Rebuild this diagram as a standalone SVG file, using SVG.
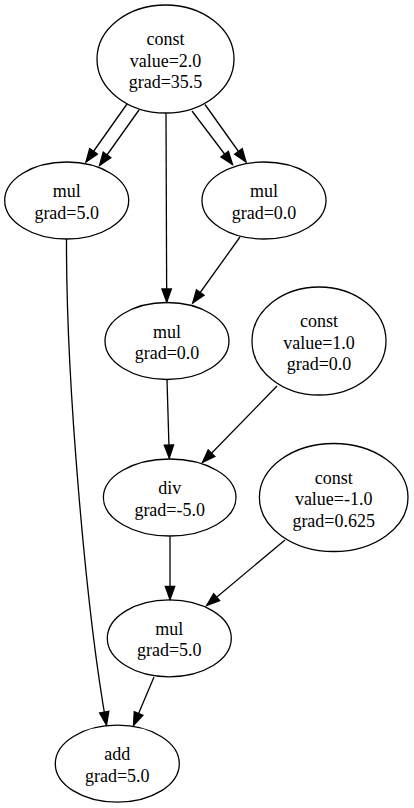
<svg xmlns="http://www.w3.org/2000/svg" width="414" height="808" viewBox="0 0 414 808">
<style>
.n ellipse{fill:none;stroke:#000;stroke-width:1.3}
.n text{font-family:"Liberation Serif","Times New Roman",serif;font-size:18px;text-anchor:middle;fill:#000}
.e path{fill:none;stroke:#000;stroke-width:1.3;marker-end:url(#ah)}
</style>
<defs>
<marker id="ah" markerUnits="userSpaceOnUse" markerWidth="14" markerHeight="10" refX="13" refY="4.7" orient="auto" overflow="visible">
<path d="M0,0 L13,4.7 L0,9.4 z" fill="#000" stroke="#000" stroke-width="1.3"/>
</marker>
</defs>
<rect width="414" height="808" fill="#fff"/>
<g id="edges" class="e">
<path d="M127,104 L86,162"/>
<path d="M139,110 L99.5,165.5"/>
<path d="M192,111 L232.5,164.5"/>
<path d="M205,104.5 L246,162"/>
<path d="M166,113 L166.7,302"/>
<path d="M240,237 L192.7,303"/>
<path d="M167,379.5 L169.3,458"/>
<path d="M277,386 L202.5,462.5"/>
<path d="M170,536.5 L170,599.5"/>
<path d="M285,540 L206.7,605.5"/>
<path d="M154,677 L133.5,725.5"/>
<path d="M66.5,239 C66,380 86,610 106.5,725"/>
</g>
<g id="n0" class="n">
<ellipse cx="165.5" cy="59" rx="68.5" ry="54"/>
<text x="165.5" y="45">const</text>
<text x="165.5" y="66.5">value=2.0</text>
<text x="165.5" y="88">grad=35.5</text>
</g>
<g id="n1" class="n">
<ellipse cx="66.7" cy="200.5" rx="62" ry="38.5"/>
<text x="66.7" y="197">mul</text>
<text x="66.7" y="218.5">grad=5.0</text>
</g>
<g id="n2" class="n">
<ellipse cx="264" cy="200.5" rx="62" ry="38.5"/>
<text x="264" y="197">mul</text>
<text x="264" y="218.5">grad=0.0</text>
</g>
<g id="n3" class="n">
<ellipse cx="167" cy="341" rx="62" ry="38.5"/>
<text x="167" y="337.5">mul</text>
<text x="167" y="359">grad=0.0</text>
</g>
<g id="n4" class="n">
<ellipse cx="319" cy="341" rx="67" ry="54"/>
<text x="319" y="327">const</text>
<text x="319" y="348.5">value=1.0</text>
<text x="319" y="370">grad=0.0</text>
</g>
<g id="n5" class="n">
<ellipse cx="169.7" cy="497.5" rx="66.3" ry="38.5"/>
<text x="169.7" y="494">div</text>
<text x="169.7" y="515.5">grad=-5.0</text>
</g>
<g id="n6" class="n">
<ellipse cx="333.7" cy="497.5" rx="74.3" ry="54"/>
<text x="333.7" y="483.5">const</text>
<text x="333.7" y="505">value=-1.0</text>
<text x="333.7" y="526.5">grad=0.625</text>
</g>
<g id="n7" class="n">
<ellipse cx="169.3" cy="638.3" rx="62" ry="38.5"/>
<text x="169.3" y="634.8">mul</text>
<text x="169.3" y="656.3">grad=5.0</text>
</g>
<g id="n8" class="n">
<ellipse cx="117.3" cy="763.7" rx="62" ry="38.5"/>
<text x="117.3" y="760.2">add</text>
<text x="117.3" y="781.7">grad=5.0</text>
</g>
</svg>
